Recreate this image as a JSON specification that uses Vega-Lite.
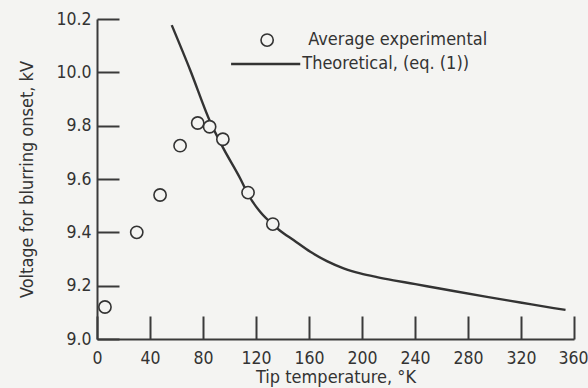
{
  "$schema": "https://vega.github.io/schema/vega-lite/v6.json",
  "width": 477,
  "height": 320,
  "autosize": "none",
  "padding": {"left": 97, "top": 19, "right": 14, "bottom": 49},
  "background": "#f4f4f2",
  "config": {
    "view": {"stroke": null},
    "font": "DejaVu Sans Condensed",
    "axis": {
      "grid": false,
      "domainColor": "#3a3a3a",
      "domainWidth": 2,
      "tickColor": "#3a3a3a",
      "tickWidth": 2,
      "labelColor": "#333333",
      "labelFontSize": 17.5,
      "labelOverlap": false,
      "labelFlush": false,
      "titleColor": "#333333",
      "titleFontSize": 18,
      "titleFontWeight": "normal"
    }
  },
  "datasets": {
    "experimental": [
      {"temperature": 6, "voltage": 9.12},
      {"temperature": 30, "voltage": 9.40},
      {"temperature": 47.6, "voltage": 9.54},
      {"temperature": 62.7, "voltage": 9.725},
      {"temperature": 76, "voltage": 9.81},
      {"temperature": 85, "voltage": 9.796},
      {"temperature": 95, "voltage": 9.749},
      {"temperature": 114, "voltage": 9.549},
      {"temperature": 132.7, "voltage": 9.431}
    ],
    "theoretical": [
      {"temperature": 56.4, "voltage": 10.177},
      {"temperature": 70.3, "voltage": 10.009},
      {"temperature": 85.4, "voltage": 9.815},
      {"temperature": 95.4, "voltage": 9.715},
      {"temperature": 108, "voltage": 9.603},
      {"temperature": 114.3, "voltage": 9.540},
      {"temperature": 123.1, "voltage": 9.477},
      {"temperature": 133.2, "voltage": 9.427},
      {"temperature": 138.2, "voltage": 9.406},
      {"temperature": 148.3, "voltage": 9.371},
      {"temperature": 161.0, "voltage": 9.327},
      {"temperature": 173.5, "voltage": 9.292},
      {"temperature": 186.1, "voltage": 9.265},
      {"temperature": 198.7, "voltage": 9.246},
      {"temperature": 211.3, "voltage": 9.232},
      {"temperature": 223.8, "voltage": 9.220},
      {"temperature": 236.4, "voltage": 9.209},
      {"temperature": 249.0, "voltage": 9.198},
      {"temperature": 269.1, "voltage": 9.180},
      {"temperature": 294.3, "voltage": 9.158},
      {"temperature": 319.5, "voltage": 9.137},
      {"temperature": 344.7, "voltage": 9.116},
      {"temperature": 353.6, "voltage": 9.109}
    ]
  },
  "layer": [
    {
      "data": {"name": "theoretical"},
      "mark": {"type": "line", "color": "#333333", "strokeWidth": 2.4, "interpolate": "monotone"},
      "encoding": {
        "x": {
          "field": "temperature",
          "type": "quantitative",
          "scale": {"domain": [0, 360], "nice": false, "zero": false},
          "axis": {
            "title": "Tip temperature, °K",
            "values": [0, 20, 40, 60, 80, 100, 120, 140, 160, 180, 200, 220, 240, 260, 280, 300, 320, 340, 360],
            "labelExpr": "datum.value % 40 === 0 ? datum.label : ''",
            "tickSize": {"condition": {"test": "datum.value % 40 === 0", "value": -23}, "value": -11},
            "labelOffset": {"condition": {"test": "datum.value === 360", "value": -1}, "value": 0},
            "labelPadding": 33,
            "titlePadding": 2
          }
        },
        "y": {
          "field": "voltage",
          "type": "quantitative",
          "scale": {"domain": [9.0, 10.2], "nice": false, "zero": false},
          "axis": {
            "title": "Voltage for blurring onset, kV",
            "values": [9.0, 9.1, 9.2, 9.3, 9.4, 9.5, 9.6, 9.7, 9.8, 9.9, 10.0, 10.1, 10.2],
            "format": ".1f",
            "labelExpr": "round(datum.value * 10) % 2 === 0 ? datum.label : ''",
            "tickSize": {"condition": {"test": "round(datum.value * 10) % 2 === 0", "value": -22}, "value": -12},
            "labelPadding": 28,
            "titlePadding": 19
          }
        }
      }
    },
    {
      "data": {"name": "experimental"},
      "mark": {"type": "point", "shape": "circle", "size": 150, "filled": false, "fill": "#f4f4f2", "fillOpacity": 1, "stroke": "#333333", "strokeWidth": 1.6, "opacity": 1},
      "encoding": {
        "x": {"field": "temperature", "type": "quantitative"},
        "y": {"field": "voltage", "type": "quantitative"}
      }
    },
    {
      "data": {"values": [{"series": "Average experimental"}]},
      "mark": {"type": "point", "shape": "circle", "size": 150, "filled": false, "stroke": "#333333", "strokeWidth": 1.6, "opacity": 1},
      "encoding": {
        "x": {"datum": 128.4, "type": "quantitative"},
        "y": {"datum": 10.121, "type": "quantitative"}
      }
    },
    {
      "data": {"values": [{"series": "Theoretical, (eq. (1))"}]},
      "mark": {"type": "rule", "color": "#333333", "strokeWidth": 2.4},
      "encoding": {
        "x": {"datum": 101.2, "type": "quantitative"},
        "x2": {"datum": 153.4},
        "y": {"datum": 10.031, "type": "quantitative"}
      }
    },
    {
      "data": {"values": [{"series": "Average experimental"}]},
      "mark": {"type": "text", "align": "left", "baseline": "middle", "fontSize": 18, "color": "#333333"},
      "encoding": {
        "x": {"datum": 159.4, "type": "quantitative"},
        "y": {"datum": 10.121, "type": "quantitative"},
        "text": {"field": "series"}
      }
    },
    {
      "data": {"values": [{"series": "Theoretical, (eq. (1))"}]},
      "mark": {"type": "text", "align": "left", "baseline": "middle", "fontSize": 18, "color": "#333333"},
      "encoding": {
        "x": {"datum": 154.9, "type": "quantitative"},
        "y": {"datum": 10.031, "type": "quantitative"},
        "text": {"field": "series"}
      }
    }
  ]
}
